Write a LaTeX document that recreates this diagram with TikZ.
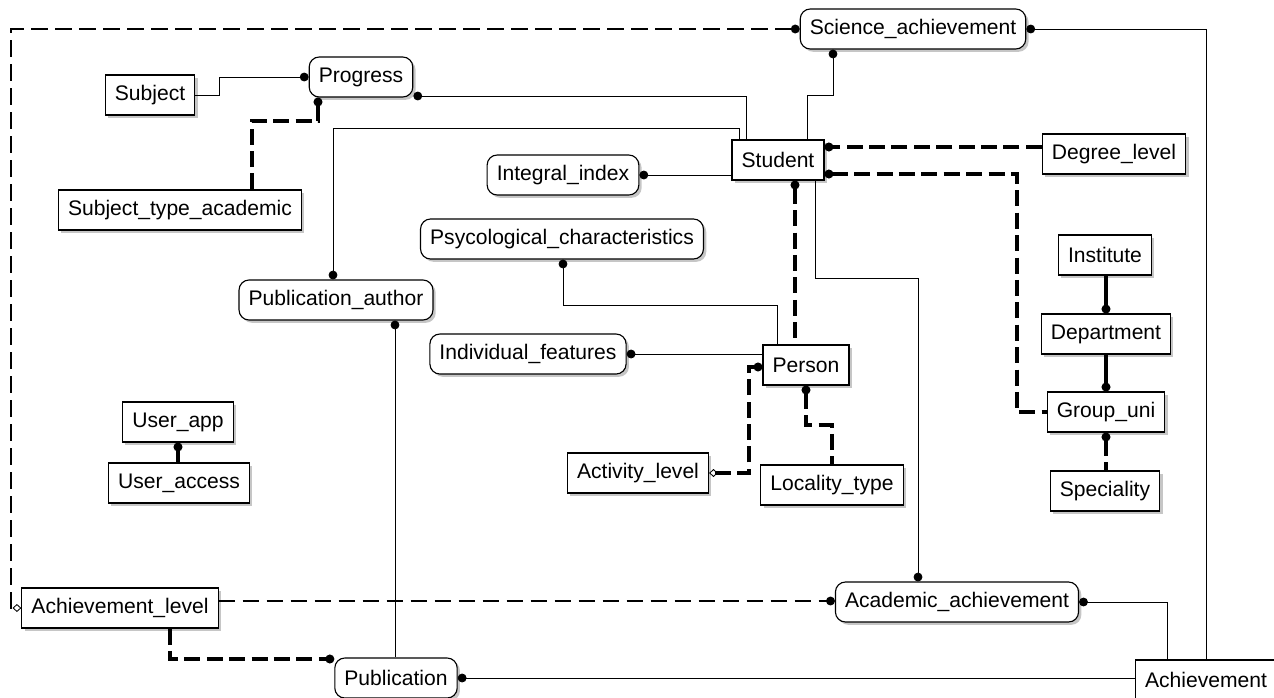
\documentclass[tikz,border=0pt]{standalone}
\usepackage{fontspec}
\setmainfont{Liberation Sans}
\usetikzlibrary{arrows.meta,shadows}
\tikzset{%
	entity/.style   = {draw, thick, rectangle, minimum height = 10mm,
		inner xsep = 2.4mm, fill = white, font = \fontsize{15}{18}\selectfont,
		drop shadow = {shadow xshift = 0.7mm, shadow yshift = -0.7mm,
			fill = gray!45, opacity = 1}}, % Table
	view/.style     = {entity, rounded corners = 2.5mm}, % View
	rel/.style      = {line width = 0.6pt}, % Link
	nonid/.style    = {line width = 1.4pt, dash pattern = on 4.2mm off 1.8mm},
	ident/.style    = {line width = 2.3pt, dash pattern = on 4mm off 1.6mm},
	idsolid/.style  = {line width = 2.3pt},
	dot/.tip        = {Circle[length = 2.2mm]},
	dia/.tip        = {Diamond[open, length = 2.2mm, width = 2mm, line width = 0.6pt]}
}
\begin{document}
\begin{tikzpicture}[x=0.25mm,y=-0.25mm]
			\useasboundingbox (0,0) rectangle (1274,697);
			\node[view]     (sci)         at (913,29)   {Science\_achievement} ;
			\node[entity]   (subject)     at (150,95)   {Subject} ;
			\node[view]     (progress)    at (361,77)   {Progress} ;
			\node[entity]   (subjtype)    at (180,210)  {Subject\_type\_academic} ;
			\node[entity]   (student)     at (778,160)  {Student} ;
			\node[view]     (integral)    at (563,175)  {Integral\_index} ;
			\node[entity]   (degree)      at (1114,154) {Degree\_level} ;
			\node[view]     (psy)         at (562,239)  {Psycological\_characteristics} ;
			\node[view]     (pubauth)     at (336,300)  {Publication\_author} ;
			\node[view]     (indiv)       at (528,354)  {Individual\_features} ;
			\node[entity]   (person)      at (806,365)  {Person} ;
			\node[entity]   (activity)    at (638,473)  {Activity\_level} ;
			\node[entity]   (locality)    at (832,485)  {Locality\_type} ;
			\node[entity]   (institute)   at (1105,255) {Institute} ;
			\node[entity]   (department)  at (1106,334) {Department} ;
			\node[entity]   (group)       at (1106,412) {Group\_uni} ;
			\node[entity]   (speciality)  at (1105,491) {Speciality} ;
			\node[entity]   (userapp)     at (178,422)  {User\_app} ;
			\node[entity]   (useraccess)  at (179,483)  {User\_access} ;
			\node[entity]   (achlevel)    at (120,608)  {Achievement\_level} ;
			\node[view]     (academic)    at (957,602)  {Academic\_achievement} ;
			\node[view]     (publication) at (396,678)  {Publication} ;
			\node[entity]   (achievement) at (1206,680) {Achievement} ;
			
			\draw[nonid,dot-dia] (sci.west) -| (11,608) -- (achlevel.west);
			\draw[rel,dot-] (sci.east) -| (achievement.north);
			\draw[rel,dot-] (sci.south -| 833,0) -- (833,95) -| (student.north -| 807,0);
			\draw[rel,dot-] (progress.east |- 0,96) -| (student.north -| 746,0);
			\draw[rel,-dot] (subject.east) -| (219,77) -- (progress.west);
			\draw[ident,-dot] (subjtype.north -| 252,0) |- (318,121) -- (progress.south -| 318,0);
			\draw[rel,dot-] (pubauth.north -| 333,0) |- (739,128) -- (student.north -| 739,0);
			\draw[rel,dot-] (integral.east) -- (student.west |- integral.east);
			\draw[ident,-dot] (degree.west |- 0,147) -- (student.east |- 0,147);
			\draw[ident,dot-] (student.east |- 0,174) -| (1017,412) -- (group.west);
			\draw[ident,dot-] (student.south -| 795,0) -- (person.north -| 795,0);
			\draw[rel,-dot] (student.south -| 815,0) |- (918,278) -- (academic.north -| 918,0);
			\draw[rel,dot-] (psy.south -| 563,0) |- (777,305) -- (person.north -| 777,0);
			\draw[rel,dot-] (indiv.east) -- (person.west |- indiv.east);
			\draw[ident,dia-dot] (activity.east) -| (749,367) -- (person.west |- 0,367);
			\draw[ident,dot-] (person.south) |- (832,425) -- (locality.north -| 832,0);
			\draw[idsolid,-dot] (institute.south -| department.north) -- (department.north);
			\draw[idsolid,-dot] (department.south) -- (group.north);
			\draw[ident,dot-] (group.south) -- (speciality.north -| group.south);
			\draw[idsolid,dot-] (userapp.south) -- (useraccess.north -| userapp.south);
			\draw[nonid,-dot] (achlevel.east |- 0,601) -- (academic.west |- 0,601);
			\draw[rel,dot-] (academic.east) -| (achievement.north -| 1167,0);
			\draw[ident,-dot] (achlevel.south -| 170,0) |- (publication.west |- 0,659);
			\draw[rel,dot-] (pubauth.south -| 395,0) -- (publication.north -| 395,0);
			\draw[rel,dot-] (publication.east) -- (achievement.west |- publication.east);
		\end{tikzpicture}
\end{document}
